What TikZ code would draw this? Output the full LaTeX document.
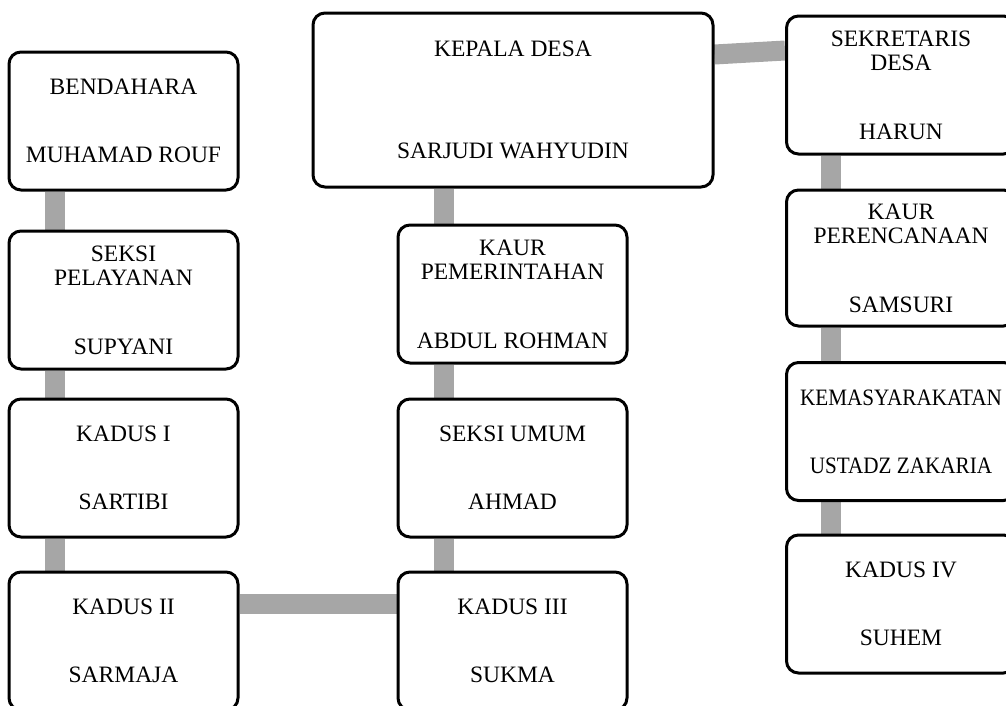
\documentclass[tikz,border=0pt]{standalone}
\usepackage{fontspec}
\setmainfont{Liberation Serif}
\newfontfamily\narrowserif[FakeStretch=0.9]{Liberation Serif}
\usetikzlibrary{backgrounds}
\definecolor{linkgray}{RGB}{166,166,166}

\begin{document}
\begin{tikzpicture}[x=1pt,y=-1pt,
	post/.style={draw=black,line width=3pt,rounded corners=12pt,fill=white,
		minimum width=229pt,minimum height=138pt,inner sep=2pt,align=center,
		font=\fontsize{23.5}{24}\selectfont},
	link/.style={linkgray,line width=20pt}]
	\useasboundingbox (0,0) rectangle (1006,705);

	%LEFT COLUMN
	\node[post] (bendahara) at (123.5,121) {BENDAHARA\\[44pt]MUHAMAD ROUF};
	\node[post] (pelayanan) at (123.5,300) {SEKSI\\PELAYANAN\\[45pt]SUPYANI};
	\node[post] (kadusI)    at (123.5,468) {KADUS I\\[44pt]SARTIBI};
	\node[post] (kadusII)   at (123.5,641) {KADUS II\\[44pt]SARMAJA};

	%MIDDLE COLUMN
	\node[post,minimum width=400pt,minimum height=174pt] (kepala) at (513,100) {KEPALA DESA\\[78pt]SARJUDI WAHYUDIN};
	\node[post] (pemerintahan) at (512.5,294) {KAUR\\PEMERINTAHAN\\[45pt]ABDUL ROHMAN};
	\node[post] (umum)         at (512.5,468) {SEKSI UMUM\\[44pt]AHMAD};
	\node[post] (kadusIII)     at (512.5,641) {KADUS III\\[44pt]SUKMA};

	%RIGHT COLUMN
	\node[post] (sekretaris)   at (901,85)  {SEKRETARIS\\DESA\\[45pt]HARUN};
	\node[post,minimum height=136pt] (perencanaan) at (901,258) {KAUR\\PERENCANAAN\\[45pt]SAMSURI};
	\node[post,font=\narrowserif\fontsize{23.5}{24}\selectfont] (kemasyarakatan) at (901,431.5) {KEMASYARAKATAN\\[44pt]USTADZ ZAKARIA};
	\node[post] (kadusIV)      at (901,604) {KADUS IV\\[44pt]SUHEM};

	%LINKS
	\begin{scope}[on background layer]
		\draw[link] ([xshift=47]bendahara.south west) -- ([xshift=47]pelayanan.north west);
		\draw[link] ([xshift=47]pelayanan.south west) -- ([xshift=47]kadusI.north west);
		\draw[link] ([xshift=47]kadusI.south west) -- ([xshift=47]kadusII.north west);
		\draw[link] ([yshift=-33]kadusII.north east) -- ([yshift=-33]kadusIII.north west); %kadus II -- kadus III
		\draw[link] ([xshift=47]kadusIII.north west) -- ([xshift=47]umum.south west);
		\draw[link] ([xshift=47]umum.north west) -- ([xshift=47]pemerintahan.south west);
		\draw[link] ([xshift=47]pemerintahan.north west) -- ([xshift=132]kepala.south west);
		\draw[link] ([yshift=-43]kepala.north east) -- ([yshift=-36]sekretaris.north west); %kepala -- sekretaris
		\draw[link] ([xshift=46]sekretaris.south west) -- ([xshift=46]perencanaan.north west);
		\draw[link] ([xshift=46]perencanaan.south west) -- ([xshift=46]kemasyarakatan.north west);
		\draw[link] ([xshift=46]kemasyarakatan.south west) -- ([xshift=46]kadusIV.north west);
	\end{scope}
\end{tikzpicture}
\end{document}
